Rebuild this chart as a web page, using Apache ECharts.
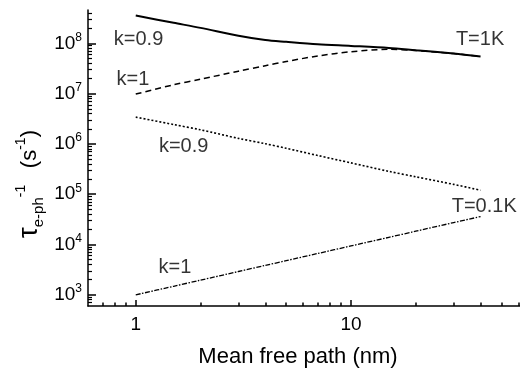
<!DOCTYPE html>
<html>
<head>
<meta charset="utf-8">
<script src="https://cdn.jsdelivr.net/npm/echarts@6/dist/echarts.min.js"></script>
<style>
  html, body { margin: 0; padding: 0; background: #fff; }
  #chart { width: 520px; height: 368px; }
</style>
</head>
<body>
<div id="chart"></div>
<script>
// mean free path (nm) where the curves were read
const pathNm = [1, 1.5, 2, 3, 4, 5, 7, 10, 15, 20, 30, 40]
// T = 1K
const k09Hot = [3.57e8, 2.56e8, 2.03e8, 1.41e8, 1.16e8, 1.07e8, 9.6e7, 8.9e7, 8.1e7, 7.3e7, 6.3e7, 5.5e7]
const k1Hot = [9.8e6, 1.5e7, 1.94e7, 2.8e7, 3.6e7, 4.35e7, 5.6e7, 6.8e7, 7.6e7, 7.2e7, 6.25e7, 5.5e7]
// T = 0.1K
const k09Cold = [3.41e6, 2.43e6, 1.91e6, 1.29e6, 1.01e6, 8.2e5, 5.9e5, 4.2e5, 2.85e5, 2.22e5, 1.57e5, 1.2e5]
const k1Cold = [1000, 1480, 1960, 2910, 3850, 4780, 6630, 9380, 13900, 18400, 27300, 36000]

const xMajor = [1, 10]
const xMinor = [0.7, 0.8, 0.9, 2, 3, 4, 5, 6, 7, 8, 9, 20, 30, 40, 50, 60]
const yMajor = [1e3, 1e4, 1e5, 1e6, 1e7, 1e8]

// curve labels: [x, y, text]
const curveLabels = [
  [1.03, 1.17e8, 'k=0.9'],
  [0.97, 1.88e7, 'k=1'],
  [1.67, 8.75e5, 'k=0.9'],
  [39.8, 1.17e8, 'T=1K'],
  [41.6, 5.6e4, 'T=0.1K'],
  [1.52, 3.45e3, 'k=1']
]

const xMin = 0.6, xMax = 61
const yMin = 600, yMax = 4.6e8

let yMinor = []
for (let d = 2; d <= 8; d++) {
  for (let m = 2; m <= 9; m++) {
    let v = m * Math.pow(10, d)
    if (v > yMin && v < yMax) yMinor.push(v)
  }
}

const font = 'Liberation Sans, Arial, sans-serif'
const black = '#000'

function pairs(ys) {
  return pathNm.map((x, i) => [x, ys[i]])
}

let chartDom = document.getElementById('chart')
let myChart = echarts.init(chartDom)

const xBase = {
  type: 'log', min: xMin, max: xMax, position: 'bottom',
  splitLine: { show: false }, minorTick: { show: false }
}
const yBase = {
  type: 'log', min: yMin, max: yMax, position: 'left',
  splitLine: { show: false }, minorTick: { show: false }
}

let option = {
  animation: false,
  grid: { left: 88, right: 0, top: 10, bottom: 62 },
  xAxis: [
    Object.assign({}, xBase, {
      axisLine: { show: true, lineStyle: { color: black, width: 1.5 } },
      axisTick: { show: true, inside: true, length: 6, customValues: xMajor, lineStyle: { color: black, width: 1.5 } },
      axisLabel: {
        customValues: xMajor,
        color: black, fontFamily: font, fontSize: 19, margin: 9,
        formatter: v => String(Math.round(v))
      }
    }),
    Object.assign({}, xBase, {
      axisLine: { show: false },
      axisTick: { show: true, inside: true, length: 3.5, customValues: xMinor, lineStyle: { color: black, width: 1.5 } },
      axisLabel: { show: false }
    })
  ],
  yAxis: [
    Object.assign({}, yBase, {
      axisLine: { show: true, lineStyle: { color: black, width: 1.5 } },
      axisTick: { show: true, inside: true, length: 8, customValues: yMajor, lineStyle: { color: black, width: 1.5 } },
      axisLabel: {
        customValues: yMajor,
        margin: 6,
        formatter: v => '{b|10}{s|' + Math.round(Math.log10(v)) + '}',
        rich: {
          b: { fontFamily: font, fontSize: 19, color: black, lineHeight: 24 },
          s: { fontFamily: font, fontSize: 12, color: black, lineHeight: 12, verticalAlign: 'top' }
        }
      }
    }),
    Object.assign({}, yBase, {
      axisLine: { show: false },
      axisTick: { show: true, inside: true, length: 4, customValues: yMinor, lineStyle: { color: black, width: 1.2 } },
      axisLabel: { show: false }
    })
  ],
  graphic: [
    {
      type: 'text',
      x: 298, y: 357,
      style: {
        text: 'Mean free path (nm)',
        fontFamily: font, fontSize: 22, fill: black,
        align: 'center', verticalAlign: 'middle'
      }
    },
    {
      type: 'text',
      x: 30, y: 184,
      rotation: Math.PI / 2,
      style: {
        text: '{t|τ}{sub|e-ph}{sup|-1}{sp|   }{p|(s}{sup|-1}{p|)}',
        align: 'center', verticalAlign: 'middle',
        rich: {
          t: { fontFamily: font, fontSize: 27, fill: black, lineHeight: 32 },
          sub: { fontFamily: font, fontSize: 15, fill: black, lineHeight: 14, verticalAlign: 'bottom' },
          sup: { fontFamily: font, fontSize: 14, fill: black, lineHeight: 14, verticalAlign: 'top' },
          sp: { fontFamily: font, fontSize: 20, fill: black, lineHeight: 32 },
          p: { fontFamily: font, fontSize: 22, fill: black, lineHeight: 32 }
        }
      }
    }
  ],
  series: [
    {
      name: 'k=0.9, T=1K', type: 'line', data: pairs(k09Hot),
      smooth: 0.3, symbol: 'none',
      lineStyle: { color: black, width: 2, type: 'solid' }
    },
    {
      name: 'k=1, T=1K', type: 'line', data: pairs(k1Hot),
      smooth: 0.3, symbol: 'none',
      lineStyle: { color: black, width: 1.5, type: [6, 4] }
    },
    {
      name: 'k=0.9, T=0.1K', type: 'line', data: pairs(k09Cold),
      smooth: 0.3, symbol: 'none',
      lineStyle: { color: black, width: 1.6, type: [2, 2] }
    },
    {
      name: 'k=1, T=0.1K', type: 'line', data: pairs(k1Cold),
      smooth: 0.3, symbol: 'none',
      lineStyle: { color: black, width: 1.3, type: [5, 1.5, 1.5, 1.5] }
    },
    {
      name: 'labels', type: 'scatter', symbolSize: 1,
      itemStyle: { color: 'rgba(0,0,0,0)' },
      data: curveLabels.map(l => ({ value: [l[0], l[1]], name: l[2] })),
      label: {
        show: true, position: 'inside', formatter: p => p.name,
        color: black, fontFamily: font, fontSize: 20
      }
    }
  ]
}

option && myChart.setOption(option)
</script>
</body>
</html>
